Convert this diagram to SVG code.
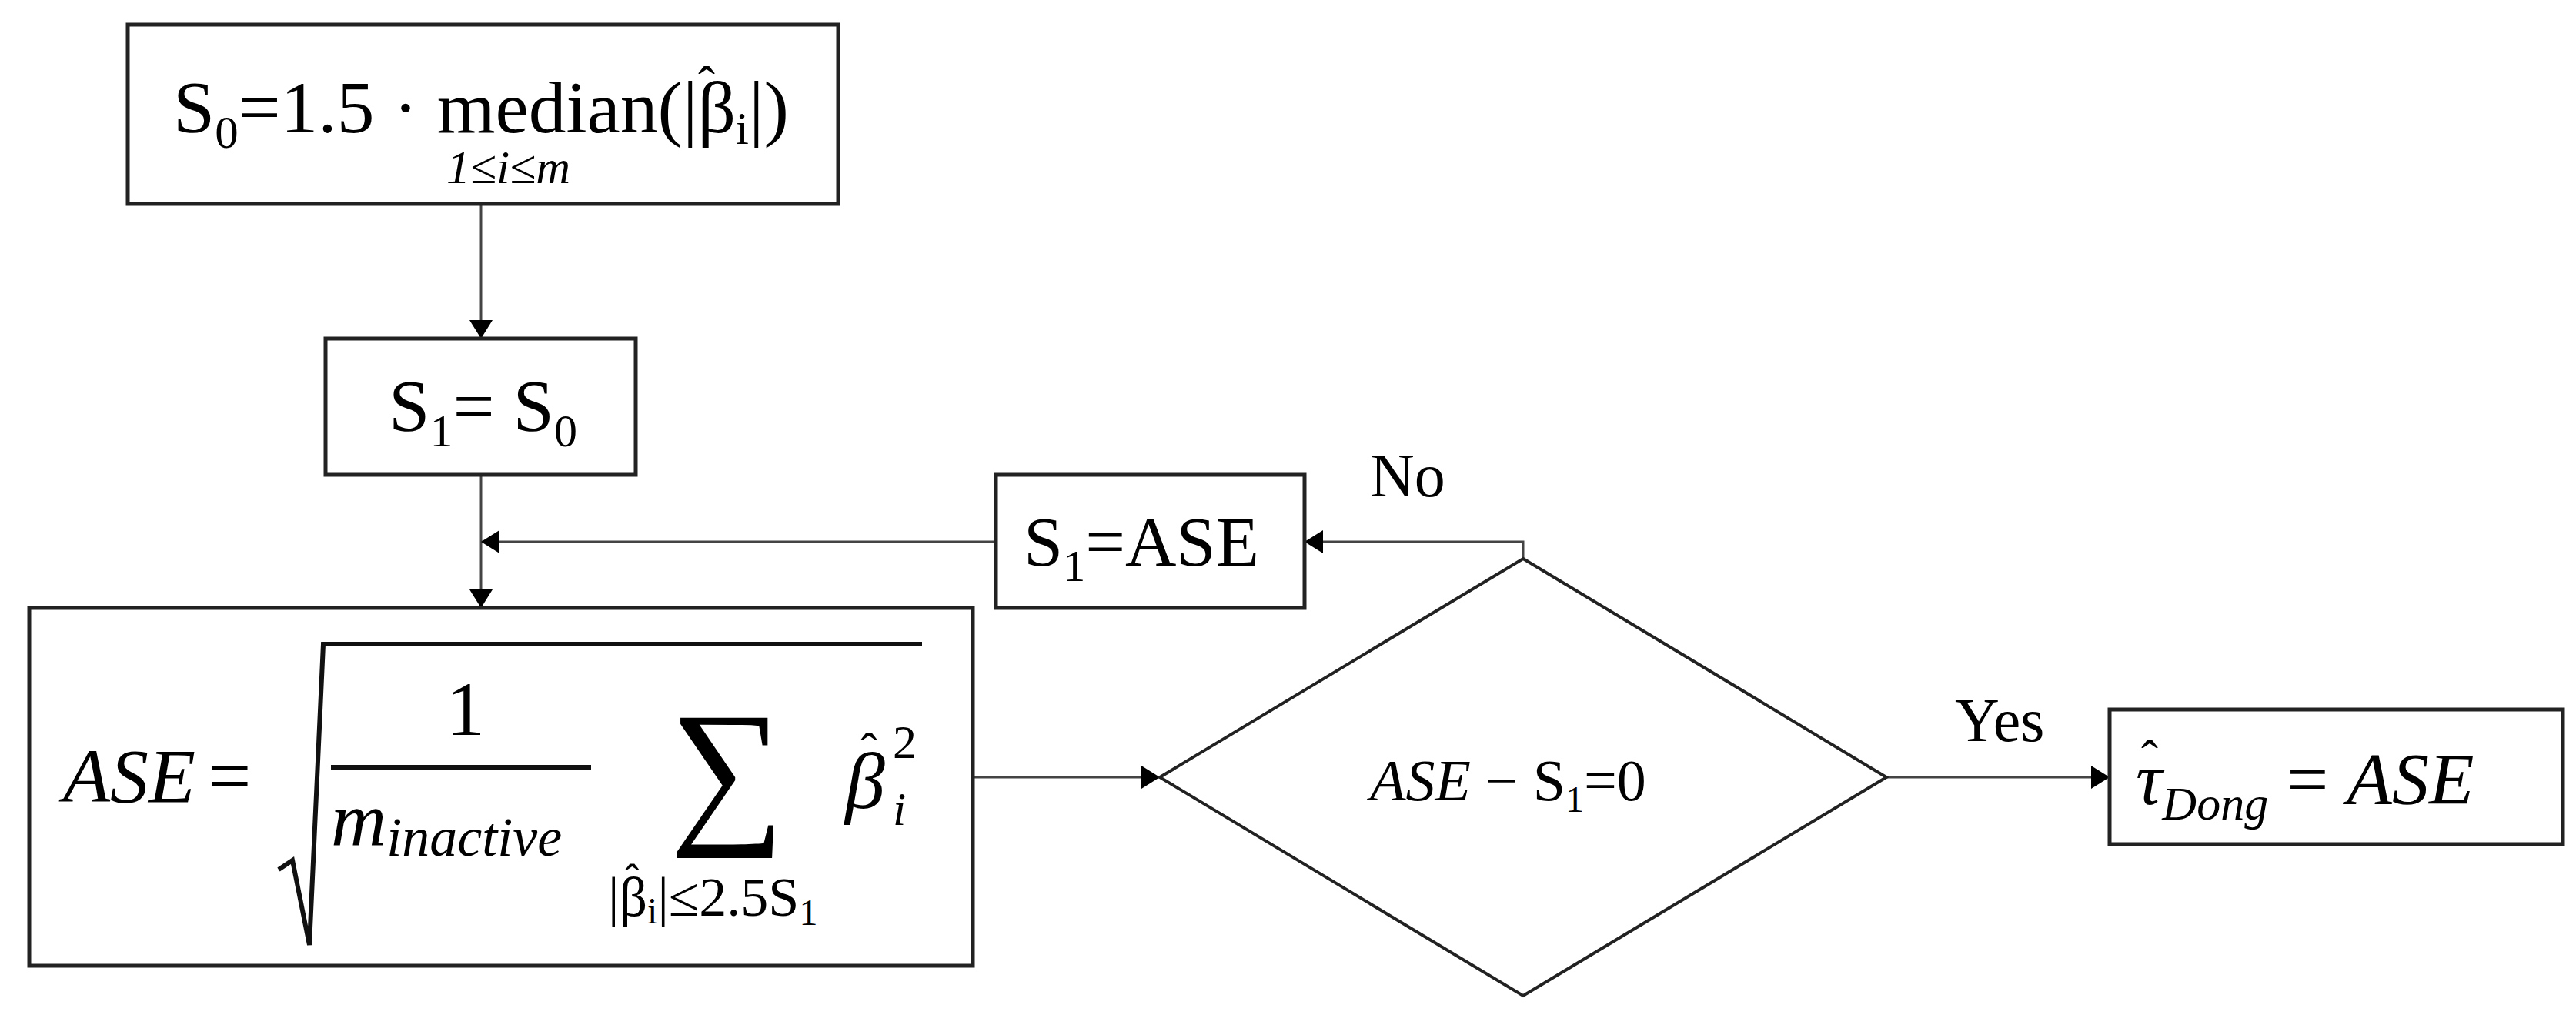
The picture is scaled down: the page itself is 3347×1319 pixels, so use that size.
<svg xmlns="http://www.w3.org/2000/svg" width="3347" height="1319" viewBox="0 0 3347 1319">
<style>
.b{fill:#fff;stroke:#222;stroke-width:5}
.c{fill:none;stroke:#444;stroke-width:3}
text{font-family:"Liberation Serif",serif;fill:#000}
.i{font-style:italic}
</style>
<defs>
<marker id="m" viewBox="0 0 10 10" refX="10" refY="5" markerWidth="24" markerHeight="30" orient="auto" markerUnits="userSpaceOnUse" preserveAspectRatio="none"><path d="M0,0 L10,5 L0,10 z" fill="#000"/></marker></defs>
<g id="connectors">
<path class="c" d="M625,265 V440" marker-end="url(#m)"/>
<path class="c" d="M625,617 V790" marker-end="url(#m)"/>
<path class="c" d="M1294,704 H625" marker-end="url(#m)"/>
<path class="c" d="M1979,726 V704 H1695" marker-end="url(#m)"/>
<path class="c" d="M1227,1010 H1507" marker-end="url(#m)"/>
<path class="c" d="M2451,1010 H2741" marker-end="url(#m)"/>
<text x="1780" y="645" font-size="80">No</text>
<text x="2540" y="963" font-size="80">Yes</text>
</g>
<g id="n1"><rect class="b" x="166" y="32" width="923" height="233"/>
<text x="225" y="172" font-size="96" textLength="800" lengthAdjust="spacingAndGlyphs">S<tspan font-size="60" dy="20">0</tspan><tspan dy="-20">=1.5 · median(|β</tspan><tspan font-size="60" dy="15">i</tspan><tspan dy="-15">|)</tspan></text>
<text x="907" y="132" font-size="66">ˆ</text>
<text x="580" y="238" font-size="62" class="i">1≤i≤m</text></g>
<g id="n2"><rect class="b" x="423" y="440" width="403" height="177"/>
<text x="505" y="560" font-size="96">S<tspan font-size="60" dy="20">1</tspan><tspan dy="-20">= S</tspan><tspan font-size="60" dy="20">0</tspan></text></g>
<g id="n3"><rect class="b" x="1294" y="617" width="401" height="173"/>
<text x="1330" y="735" font-size="92">S<tspan font-size="58" dy="20">1</tspan><tspan dy="-20">=ASE</tspan></text></g>
<g id="n4"><rect class="b" x="38" y="790" width="1226" height="465"/>
<text x="82" y="1042" font-size="100" class="i">ASE</text><text x="270" y="1042" font-size="100">=</text>
<path d="M362,1130 L380,1118 L402,1228 L420,837 H1198" fill="none" stroke="#111" stroke-width="6"/>
<text x="580" y="955" font-size="100">1</text>
<path d="M430,997 H768" stroke="#111" stroke-width="6"/>
<text x="430" y="1098" font-size="100" class="i">m<tspan font-size="72" dy="14">inactive</tspan></text>
<text x="870" y="1070" font-size="210">∑</text>
<text x="790" y="1190" font-size="72">|β<tspan font-size="48" dy="10">i</tspan><tspan dy="-10">|≤2.5S</tspan><tspan font-size="48" dy="12">1</tspan></text>
<text x="812" y="1162" font-size="56">ˆ</text>
<text x="1098" y="1050" font-size="104" class="i">β</text>
<text x="1118" y="998" font-size="66">ˆ</text>
<text x="1160" y="985" font-size="62">2</text>
<text x="1160" y="1072" font-size="62" class="i">i</text></g>
<g id="n5"><polygon class="b" points="1979,726 2451,1010 1979,1294 1507,1010" style="stroke-width:4"/>
<text x="1780" y="1040" font-size="76"><tspan class="i">ASE</tspan> − S<tspan font-size="48" dy="15">1</tspan><tspan dy="-15">=0</tspan></text></g>
<g id="n6"><rect class="b" x="2741" y="922" width="589" height="175"/>
<text x="2775" y="1045" font-size="96" class="i">τ<tspan font-size="62" dy="20">Dong</tspan><tspan dy="-20" font-style="normal"> = </tspan>ASE</text>
<text x="2782" y="1008" font-size="66">ˆ</text></g>
</svg>
